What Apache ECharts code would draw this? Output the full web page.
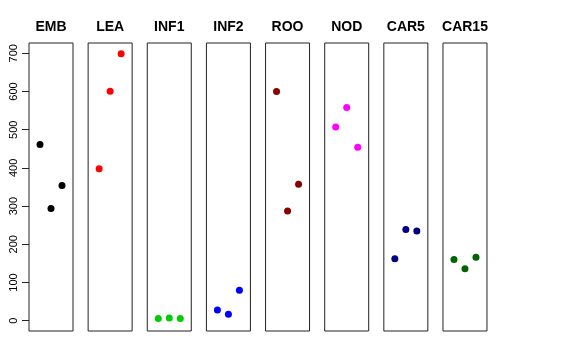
<!DOCTYPE html>
<html>
<head>
<meta charset="utf-8">
<script src="https://cdn.jsdelivr.net/npm/echarts@6/dist/echarts.min.js"></script>
<style>html,body{margin:0;padding:0;background:#fff;}#c{width:576px;height:360px;}</style>
</head>
<body>
<div id="c"></div>
<script>
const panels = ['EMB','LEA','INF1','INF2','ROO','NOD','CAR5','CAR15'];
const colors = ['#000000','#FF0000','#00CD00','#0000FF','#8B0000','#FF00FF','#000080','#006400'];
const positions = [1, 2, 3];
const EMB = [461, 294, 354];
const LEA = [398, 601, 699];
const INF1 = [6, 7, 6];
const INF2 = [28, 17, 80];
const ROO = [600, 287, 357];
const NOD = [507, 558, 454];
const CAR5 = [162, 239, 235];
const CAR15 = [160, 136, 166];
const yTicks = [0, 100, 200, 300, 400, 500, 600, 700];
const values = [EMB, LEA, INF1, INF2, ROO, NOD, CAR5, CAR15];

const chart = echarts.init(document.getElementById('c'));
const L0 = 29, STEP = 59.14, W = 44, TOP = 43, H = 288;
const grids = [], xAxes = [], yAxes = [], series = [], titles = [];
panels.forEach((name, i) => {
  const left = L0 + i * STEP;
  grids.push({left: left, top: TOP, width: W, height: H, show: true, borderColor: '#222', borderWidth: 1, backgroundColor: 'transparent'});
  xAxes.push({type: 'value', gridIndex: i, min: 0, max: 4, show: false});
  yAxes.push({
    type: 'value', gridIndex: i, min: -27, max: 727,
    splitLine: {show: false},
    axisLine: {show: false},
    axisTick: {show: i === 0, length: 7, lineStyle: {color: '#222'}, customValues: yTicks},
    axisLabel: {show: i === 0, rotate: 90, margin: 10, fontSize: 11, color: '#000', fontFamily: 'Liberation Sans', customValues: yTicks}
  });
  series.push({
    type: 'scatter', xAxisIndex: i, yAxisIndex: i, symbolSize: 7,
    itemStyle: {color: colors[i], opacity: 1},
    data: positions.map((p, k) => [p, values[i][k]])
  });
  titles.push({
    text: name, left: left + W / 2, top: 20, textAlign: 'center', padding: 0,
    textStyle: {fontSize: 14, fontWeight: 'bold', color: '#000', fontFamily: 'Liberation Sans'}
  });
});
chart.setOption({
  animation: false,
  title: titles,
  grid: grids,
  xAxis: xAxes,
  yAxis: yAxes,
  series: series
});
</script>
</body>
</html>
